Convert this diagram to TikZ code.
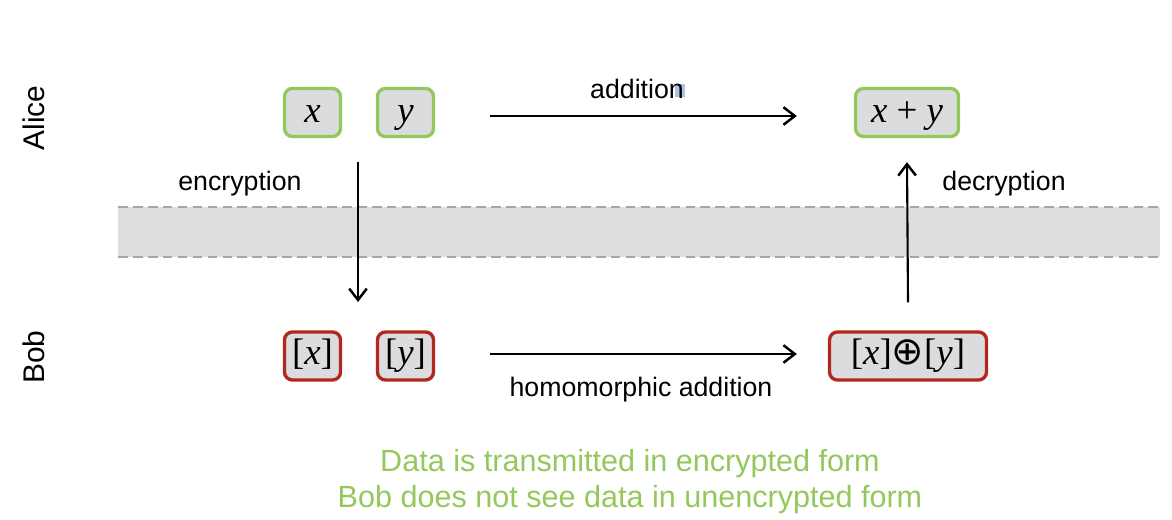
\documentclass[tikz,border=0pt]{standalone}
\usepackage{fontspec}
\setmainfont{Liberation Sans}
\newfontfamily\mathlike{Liberation Serif}
\newfontfamily\symfont{DejaVu Sans}
\usetikzlibrary{arrows.meta}
\definecolor{boxfill}{HTML}{DCDCDE}
\definecolor{agreen}{HTML}{94C85C}
\definecolor{bred}{HTML}{B3281E}
\definecolor{band}{HTML}{DCDDDF}
\definecolor{dashgray}{HTML}{A3A6AA}
\definecolor{hilite}{HTML}{A9C6DE}
\newcommand{\vx}{\textit{x}}
\newcommand{\vy}{\textit{y}}
\newcommand{\opl}{{\symfont\fontsize{22}{22}\selectfont ⊕}}
\tikzset{
  plainbox/.style={draw=agreen, fill=boxfill, line width=1.9pt, rounded corners=4.5pt,
    minimum height=0.96cm, inner sep=2pt, text height=14pt, text depth=2.2pt,
    font=\mathlike\fontsize{21}{24}\selectfont},
  encbox/.style={plainbox, draw=bred, text height=13pt, text depth=2.8pt},
  arr/.style={-{Straight Barb[length=6.5pt,width=10pt,line width=1.4pt]}, line width=1.2pt, black},
  lbl/.style={font=\fontsize{15.2}{18}\selectfont, text=black, inner sep=0pt},
  party/.style={font=\fontsize{17}{20}\selectfont, rotate=90, inner sep=0pt},
  note/.style={font=\fontsize{17.4}{21}\selectfont, text=agreen, align=center, inner sep=0pt},
  dashline/.style={dashgray, line width=1.4pt, dash pattern=on 5.5pt off 3pt}
}
\begin{document}
\begin{tikzpicture}[x=0.02cm,y=-0.02cm]
\useasboundingbox (0,0) rectangle (1172,520);
% band
\fill[band] (118,207) rectangle (1160,257);
\draw[dashline] (118,207) -- (1160,207);
\draw[dashline] (118,257) -- (1160,257);
% parties
\node[party] (alice) at (34,118) {Alice};
\node[party] (bob) at (34,357) {Bob};
% Alice boxes
\node[plainbox, minimum width=1.12cm] (x) at (312.5,112.5) {\vx};
\node[plainbox, minimum width=1.12cm] (y) at (405.5,112.5) {\vy};
\node[plainbox, minimum width=2.06cm] (xy) at (907,112.5) {\vx\ + \vy};
% Bob boxes
\node[encbox, minimum width=1.12cm] (ex) at (312.5,356) {[\vx]};
\node[encbox, minimum width=1.12cm] (ey) at (405.5,356) {[\vy]};
\node[encbox, minimum width=3.14cm] (exy) at (908,356) {[\vx]\opl[\vy]};
% highlight
\fill[hilite] (675,84) rectangle (685,97);
% arrows
\draw[arr] ([xshift=1.1cm,yshift=-0.07cm]y.east) -- ([xshift=-1.14cm,yshift=-0.07cm]xy.west);
\draw[arr] ([xshift=1.1cm,yshift=0.04cm]ey.east) -- ([xshift=-0.62cm,yshift=0.04cm]exy.west);
\coordinate (encs) at (358,162);
\coordinate (ence) at (358,302);
\draw[arr] (encs) -- (ence);
\draw[arr] ([yshift=0.56cm]exy.north) -- ([yshift=-0.48cm]xy.south);
% labels
\node[lbl] (add) at (637,89) {addition};
\node[lbl] (hadd) at (641,390) {homomorphic addition};
\node[lbl] (enc) at (240,184) {encryption};
\node[lbl] (dec) at (1004,184) {decryption};
% note
\node[note] (n1) at (630,464) {Data is transmitted in encrypted form};
\node[note] (n2) at (630,500) {Bob does not see data in unencrypted form};
\end{tikzpicture}
\end{document}
